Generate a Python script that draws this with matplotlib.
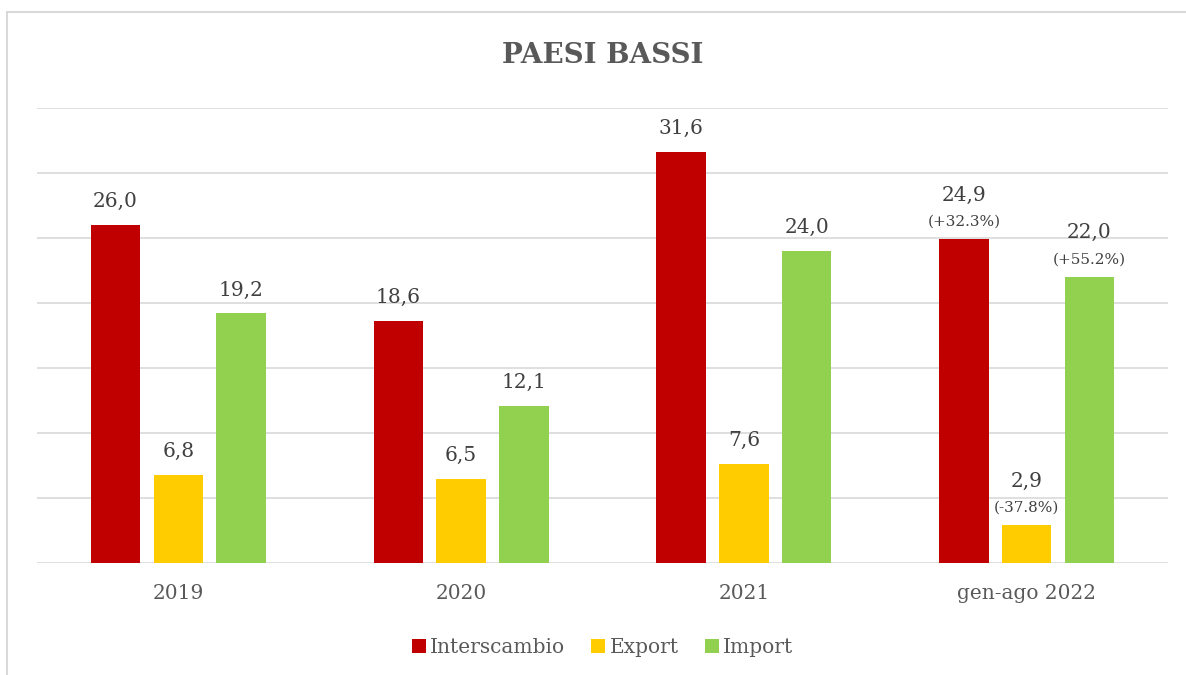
import matplotlib.pyplot as plt
import matplotlib.patches as patches
import numpy as np

# --- dati (miliardi di euro) ---
categorie = ['2019', '2020', '2021', 'gen-ago 2022']
interscambio = [26.0, 18.6, 31.6, 24.9]
export = [6.8, 6.5, 7.6, 2.9]
import_ = [19.2, 12.1, 24.0, 22.0]
# variazioni percentuali solo per l'ultimo periodo
var_ultimo = ['(+32.3%)', '(-37.8%)', '(+55.2%)']

serie = [('Interscambio', interscambio, '#C00000'),
         ('Export', export, '#FFCC00'),
         ('Import', import_, '#92D050')]

plt.rcParams['font.family'] = ['DejaVu Serif']

fig = plt.figure(figsize=(11.86, 6.75), dpi=100)
ax = fig.add_axes([0.0312, 0.1659, 0.9536, 0.6741])

# cornice grigia del grafico
cornice = patches.Rectangle((7 / 1186, -0.1), 1.2, 1.1 - 12 / 675,
                            transform=fig.transFigure, fill=False,
                            edgecolor='#d9d9d9', linewidth=1.5)
fig.patches.append(cornice)

x = np.arange(len(categorie))
larghezza = 0.175
offsets = [-0.222, 0.0, 0.222]

for k, (nome, valori, colore) in enumerate(serie):
    barre = ax.bar(x + offsets[k], valori, larghezza, color=colore, label=nome, zorder=3)
    for i, b in enumerate(barre):
        testo = f"{valori[i]:.1f}".replace('.', ',')
        cx = b.get_x() + b.get_width() / 2
        top = b.get_height()
        if i == len(categorie) - 1:
            ax.annotate(var_ultimo[k], (cx, top), xytext=(0, 7.5), textcoords='offset points',
                        ha='center', va='bottom', fontsize=11, color='#404040')
            ax.annotate(testo, (cx, top), xytext=(0, 25), textcoords='offset points',
                        ha='center', va='bottom', fontsize=14.5, color='#404040')
        else:
            ax.annotate(testo, (cx, top), xytext=(0, 10), textcoords='offset points',
                        ha='center', va='bottom', fontsize=14.5, color='#404040')

ax.set_xlim(-0.5, 3.5)
ax.set_ylim(0, 35)
ax.set_yticks(np.arange(0, 36, 5))
ax.yaxis.grid(True, color='#d9d9d9', linewidth=1.2, zorder=0)
ax.tick_params(axis='y', left=False, labelleft=False)
ax.tick_params(axis='x', length=0, pad=15, labelsize=14.5, labelcolor='#595959')
ax.set_xticks(x)
ax.set_xticklabels(categorie)
for s in ax.spines.values():
    s.set_visible(False)

fig.text(0.508, 0.918, 'PAESI BASSI', ha='center', va='center',
         fontsize=20, fontweight='bold', color='#595959')

leg = fig.legend(loc='center', bbox_to_anchor=(0.508, 0.041), ncol=3, frameon=False,
                 fontsize=14.5, handlelength=0.7, handleheight=0.7, handletextpad=0.2,
                 columnspacing=1.3)
for t in leg.get_texts():
    t.set_color('#595959')

fig.savefig('out.png', dpi=100, facecolor='white')
